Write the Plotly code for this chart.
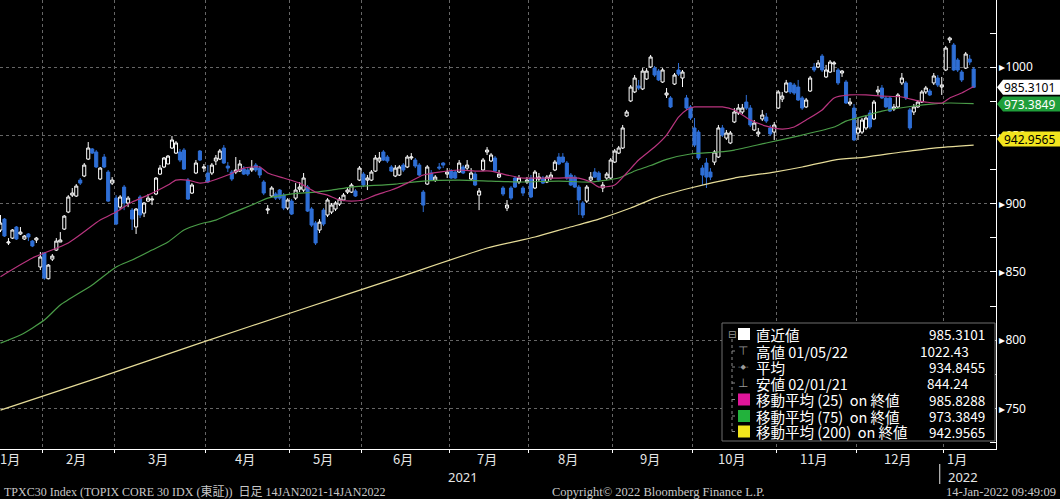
import plotly.graph_objects as go
import pandas as pd

# ------------------------------------------------------------------ data
holidays = ["2021-02-11", "2021-02-23", "2021-04-29", "2021-05-03", "2021-05-04",
            "2021-05-05", "2021-07-22", "2021-07-23", "2021-08-09", "2021-09-20",
            "2021-09-23", "2021-11-03", "2021-11-23", "2021-12-31", "2022-01-03",
            "2022-01-10"]

opens = [
    # Jan 2021
    884.0, 880.7, 888.7, 871.2, 874.8, 882.9, 877.8, 874.1, 877.8, 872.6, 873.4, 853.6,
    # Feb
    863.8, 845.0, 859.4, 866.0, 871.9, 881.4, 893.9, 906.3, 905.6, 917.3, 920.3, 932.7,
    940.1, 937.9, 918.1, 934.2, 923.2, 915.1,
    # Mar
    904.1, 897.5, 912.2, 900.5, 895.3, 882.9, 904.9, 893.1, 901.9, 902.7, 907.1, 921.7,
    926.9, 929.1, 940.8, 937.1, 937.9, 939.3, 917.3, 907.8, 922.5, 938.6, 926.1,
    # Apr
    922.5, 922.5, 931.3, 932.7, 940.8, 927.6, 923.2, 923.2, 923.9, 925.4, 924.7, 924.7,
    928.3, 926.1, 915.9, 895.3, 905.6, 907.1, 910.0, 906.3, 896.8,
    # May
    901.9, 904.1, 910.7, 910.0, 912.2, 896.1, 885.8, 880.7, 895.3, 891.7, 893.9, 896.1,
    899.7, 902.7, 908.5, 908.5, 909.3, 917.3,
    # Jun
    921.7, 917.3, 917.3, 923.9, 931.3, 937.9, 934.2, 926.9, 920.3, 921.0, 928.3, 926.9,
    933.5, 932.0, 928.3, 908.5, 914.4, 922.5, 917.3, 926.9, 929.8, 921.7,
    # Jul
    923.9, 923.2, 923.2, 926.9, 926.1, 918.1, 921.7, 906.3, 924.7, 937.9, 931.3, 933.5,
    919.5, 911.5, 896.8, 911.5, 918.8, 915.9, 911.5, 915.9,
    # Aug
    918.8, 911.5, 918.1, 918.8, 915.9, 918.8, 924.7, 934.2, 934.2, 929.8, 921.0, 919.5,
    912.2, 900.5, 901.9, 917.3, 923.2, 922.5, 911.5, 918.8, 918.8,
    # Sep
    930.5, 937.1, 940.8, 964.3, 975.3, 981.9, 986.3, 984.1, 991.4, 1000.2, 999.4, 997.2,
    989.2, 979.7, 977.5, 987.7, 998.0, 992.1, 977.5, 970.9,
    # Oct
    955.5, 952.5, 926.1, 929.8, 923.2, 930.5, 934.2, 955.5, 948.1, 944.5, 959.9, 966.5,
    967.2, 974.5, 970.1, 954.0, 951.1, 962.1, 963.5, 955.5, 952.5,
    # Nov
    970.1, 976.7, 981.9, 988.5, 987.0, 985.5, 977.5, 970.9, 982.6, 1000.2, 1000.2, 1008.2,
    992.9, 996.5, 1002.4, 998.0, 995.8, 989.2, 973.1, 970.1,
    # Dec
    951.8, 952.5, 955.5, 966.5, 962.1, 981.9, 984.8, 977.5, 977.5, 969.4, 970.9, 988.5,
    988.5, 968.7, 967.2, 970.9, 974.5, 981.9, 982.6, 988.5, 992.1, 985.5,
    # Jan 2022
    998.0, 1020.0, 1016.3, 1005.3, 996.5, 999.4, 1006.0, 998.7,
]

highs = [
    887.5, 891.7, 889.5, 874.8, 881.4, 883.6, 882.9, 877.0, 878.5, 873.4, 875.6, 864.6,
    864.6, 855.8, 863.1, 874.8, 879.2, 891.7, 906.3, 911.5, 914.4, 918.8, 929.8, 945.2,
    940.8, 939.3, 926.9, 936.4, 924.7, 919.5,
    906.3, 906.3, 913.7, 905.6, 896.8, 896.8, 906.3, 901.2, 907.1, 905.6, 919.5, 928.3,
    934.2, 935.7, 949.6, 945.9, 940.1, 940.8, 918.8, 915.1, 932.0, 939.3, 929.1,
    928.3, 929.8, 935.7, 940.1, 943.0, 930.5, 924.7, 934.2, 932.0, 927.6, 926.1, 932.0,
    929.8, 927.6, 917.3, 899.0, 912.9, 908.5, 910.7, 907.8, 904.1,
    903.4, 915.1, 915.9, 922.5, 913.7, 897.5, 887.3, 888.7, 896.8, 904.1, 900.5, 901.9,
    904.9, 907.8, 912.2, 915.1, 910.7, 927.6,
    923.2, 921.0, 924.7, 935.7, 937.9, 939.3, 935.7, 928.3, 928.3, 928.3, 929.8, 935.7,
    937.1, 933.5, 929.8, 910.0, 928.3, 924.7, 921.0, 929.8, 930.5, 926.1,
    925.4, 924.7, 932.0, 928.3, 932.0, 926.1, 923.2, 911.5, 933.5, 941.5, 937.1, 934.9,
    924.7, 912.9, 902.7, 912.9, 920.3, 921.0, 912.9, 919.5,
    921.0, 924.7, 922.5, 920.3, 921.0, 923.2, 932.0, 937.1, 937.1, 931.3, 922.5, 921.0,
    913.7, 901.9, 913.7, 923.2, 926.1, 923.9, 915.9, 923.2, 933.5,
    940.1, 942.3, 957.7, 968.7, 987.0, 994.3, 990.7, 999.4, 999.4, 1009.0, 1000.9, 998.7,
    999.4, 984.8, 978.9, 995.8, 1003.1, 998.0, 979.7, 972.3,
    962.8, 954.0, 928.3, 933.5, 926.1, 939.3, 957.7, 957.7, 954.0, 953.3, 970.1, 973.1,
    973.1, 979.7, 972.3, 961.3, 955.5, 968.7, 966.5, 957.7, 959.9,
    983.3, 981.9, 990.7, 989.2, 988.5, 990.7, 978.9, 977.5, 993.6, 1003.1, 1005.3, 1009.7,
    1001.7, 1005.3, 1004.6, 999.4, 998.0, 990.7, 977.5, 973.1,
    962.8, 962.8, 965.0, 968.7, 976.0, 986.3, 987.0, 978.9, 978.9, 973.1, 981.1, 995.8,
    989.9, 970.1, 973.1, 976.0, 983.3, 986.3, 984.1, 995.8, 994.3, 992.9,
    1015.6, 1022.43, 1017.8, 1006.8, 998.0, 1011.2, 1009.0, 1000.2,
]

lows = [
    880.0, 879.2, 875.6, 869.7, 874.1, 873.4, 877.0, 873.4, 872.6, 868.2, 871.2, 851.4,
    844.24, 844.5, 858.0, 865.3, 871.9, 880.7, 893.1, 904.9, 904.9, 913.7, 919.5, 932.0,
    936.4, 926.1, 917.3, 926.1, 901.2, 913.7,
    884.3, 895.3, 895.3, 897.5, 880.7, 877.8, 889.5, 890.2, 901.2, 899.0, 906.3, 921.0,
    926.1, 929.1, 940.1, 936.4, 930.5, 924.7, 902.7, 907.1, 921.7, 931.3, 923.2,
    915.1, 921.0, 928.3, 932.0, 929.1, 923.2, 916.6, 921.7, 923.2, 921.0, 920.3, 923.2,
    923.2, 918.8, 906.3, 892.4, 904.9, 902.7, 902.7, 895.3, 895.3,
    891.7, 902.7, 908.5, 908.5, 893.9, 882.9, 869.7, 878.5, 883.6, 890.2, 892.4, 894.6,
    898.3, 901.9, 907.1, 907.8, 904.9, 916.6,
    912.2, 910.0, 916.6, 923.2, 929.8, 931.3, 929.8, 923.2, 919.5, 920.3, 923.2, 926.1,
    932.0, 926.1, 920.3, 893.9, 913.7, 916.6, 915.9, 924.7, 926.1, 918.8,
    918.1, 918.1, 922.5, 921.7, 924.7, 917.3, 912.9, 895.3, 923.9, 935.7, 930.5, 923.2,
    918.8, 905.6, 894.6, 902.7, 911.5, 914.4, 905.6, 914.4,
    904.1, 910.7, 916.6, 914.4, 915.1, 917.3, 923.9, 928.3, 929.8, 917.3, 912.9, 911.5,
    891.7, 889.5, 900.5, 915.9, 918.8, 915.9, 908.5, 917.3, 918.1,
    929.8, 936.4, 940.1, 963.5, 974.5, 981.1, 983.3, 983.3, 990.7, 999.4, 992.9, 989.9,
    988.5, 977.5, 970.1, 987.0, 993.6, 985.5, 968.7, 961.3,
    941.5, 932.0, 913.7, 911.5, 917.3, 928.3, 933.5, 948.9, 946.7, 943.7, 959.1, 965.0,
    965.7, 968.7, 956.2, 953.3, 948.9, 960.6, 959.1, 949.6, 946.7,
    969.4, 974.5, 981.1, 980.4, 979.7, 975.3, 968.7, 970.1, 981.9, 996.5, 999.4, 996.5,
    992.1, 995.8, 996.5, 987.0, 992.9, 973.1, 971.6, 945.9,
    946.7, 951.1, 954.0, 954.7, 961.3, 979.7, 976.7, 970.1, 967.2, 967.9, 970.1, 987.0,
    976.0, 954.0, 965.0, 970.1, 973.8, 980.4, 978.9, 987.0, 985.5, 979.7,
    997.2, 1017.8, 997.2, 996.5, 989.2, 998.7, 1001.7, 984.8,
]

closes = [
    883.0, 885.8, 876.3, 871.9, 880.7, 874.1, 879.2, 876.3, 875.6, 869.0, 874.8, 860.9,
    845.5, 855.0, 861.6, 872.6, 873.4, 890.9, 904.9, 907.8, 912.9, 915.1, 928.3, 940.8,
    937.1, 926.9, 926.1, 926.9, 901.9, 917.3,
    885.1, 904.9, 900.5, 904.1, 888.7, 896.1, 891.7, 900.5, 904.1, 903.4, 918.8, 926.1,
    933.5, 934.9, 946.7, 944.5, 932.0, 925.4, 903.4, 913.7, 929.8, 932.0, 926.9,
    915.9, 928.3, 933.5, 938.6, 929.8, 926.1, 918.1, 924.7, 929.1, 921.7, 921.7, 926.1,
    924.7, 921.0, 907.8, 896.1, 911.5, 904.1, 904.1, 896.8, 902.7,
    892.4, 910.0, 912.2, 918.8, 894.6, 884.3, 871.2, 886.5, 885.1, 902.7, 899.0, 900.5,
    903.4, 906.3, 910.0, 913.7, 905.6, 926.1,
    913.7, 918.8, 923.2, 933.5, 933.5, 932.0, 931.3, 923.9, 926.1, 926.9, 924.7, 934.2,
    934.2, 927.6, 921.0, 899.0, 926.9, 917.3, 919.5, 926.1, 928.3, 923.2,
    918.8, 918.8, 929.8, 922.5, 928.3, 922.5, 913.7, 909.3, 932.0, 939.3, 935.7, 923.9,
    921.7, 907.1, 899.0, 904.1, 912.2, 918.8, 907.8, 917.3,
    904.9, 923.2, 919.5, 915.1, 919.5, 921.0, 930.5, 929.1, 930.5, 918.8, 913.7, 912.2,
    902.7, 891.7, 912.2, 919.5, 919.5, 917.3, 913.7, 921.7, 932.0,
    938.6, 940.8, 955.5, 967.2, 985.5, 992.1, 984.8, 997.2, 997.2, 1007.5, 994.3, 990.7,
    998.0, 981.1, 970.9, 994.3, 995.0, 996.5, 970.1, 962.8,
    943.0, 933.5, 921.0, 919.5, 919.5, 937.9, 955.5, 950.3, 951.8, 951.8, 967.2, 970.1,
    970.1, 970.1, 957.7, 959.1, 952.5, 965.0, 960.6, 951.1, 957.7,
    981.9, 978.9, 988.5, 981.9, 981.1, 976.0, 970.1, 976.0, 992.1, 998.0, 1003.1, 998.0,
    998.0, 1003.8, 1003.1, 988.5, 997.2, 973.8, 974.5, 946.7,
    955.5, 961.3, 962.8, 956.2, 974.5, 983.3, 977.5, 970.9, 967.9, 970.9, 979.7, 992.1,
    977.5, 955.5, 970.9, 974.5, 981.9, 984.8, 979.7, 993.6, 987.0, 987.0,
    1014.1, 1021.4, 998.0, 998.0, 990.7, 1009.7, 1003.8, 985.3101,
]

ma25_dates = ["2021-01-15", "2021-01-27", "2021-02-09", "2021-02-22", "2021-03-01",
              "2021-03-05", "2021-03-11", "2021-03-18", "2021-03-22", "2021-03-25",
              "2021-03-30", "2021-04-01", "2021-04-08", "2021-04-14", "2021-04-20",
              "2021-04-22", "2021-04-28", "2021-05-10", "2021-05-14", "2021-05-19",
              "2021-05-24", "2021-05-27", "2021-06-01", "2021-06-04", "2021-06-10",
              "2021-06-16", "2021-06-22", "2021-06-28", "2021-07-05", "2021-07-09",
              "2021-07-15", "2021-07-21", "2021-07-29", "2021-08-04", "2021-08-12",
              "2021-08-19", "2021-08-24", "2021-08-26", "2021-09-01", "2021-09-06",
              "2021-09-09", "2021-09-15", "2021-09-21", "2021-09-27", "2021-09-29",
              "2021-10-01", "2021-10-06", "2021-10-12", "2021-10-15", "2021-10-21",
              "2021-10-27", "2021-11-02", "2021-11-08", "2021-11-11", "2021-11-17",
              "2021-11-22", "2021-11-29", "2021-12-03", "2021-12-09", "2021-12-16",
              "2021-12-22", "2021-12-24", "2021-12-30", "2022-01-05", "2022-01-11",
              "2022-01-14"]
ma25_vals = [846.5, 860.2, 871.2, 888.0, 893.9,
             901.2, 906.3, 913.7, 917.3, 917.3,
             915.1, 915.9, 921.0, 926.1, 926.9,
             922.5, 918.8, 915.1, 908.5, 906.3,
             902.7, 901.9, 902.7, 906.3, 910.0,
             915.1, 921.0, 923.2, 924.7, 923.9,
             923.9, 921.0, 918.8, 918.8, 918.8,
             918.8, 915.9, 912.2, 913.7, 922.5,
             932.0, 941.5, 950.3, 963.5, 968.7,
             970.9, 970.9, 970.9, 968.7, 961.3,
             956.9, 954.7, 956.2, 961.3, 968.7,
             977.5, 979.7, 979.7, 978.9, 978.2,
             975.3, 974.5, 973.8, 977.5, 981.1,
             985.8288]

ma75_dates = ["2021-01-15", "2021-01-22", "2021-02-01", "2021-02-05", "2021-02-18",
              "2021-03-01", "2021-03-05", "2021-03-12", "2021-03-18", "2021-03-24",
              "2021-03-30", "2021-04-05", "2021-04-09", "2021-04-16", "2021-04-22",
              "2021-04-28", "2021-05-10", "2021-05-14", "2021-05-20", "2021-05-27",
              "2021-06-01", "2021-06-11", "2021-06-22", "2021-07-05", "2021-07-15",
              "2021-07-29", "2021-08-12", "2021-08-24", "2021-09-02", "2021-09-08",
              "2021-09-14", "2021-09-21", "2021-09-30", "2021-10-11", "2021-10-15",
              "2021-10-27", "2021-11-10", "2021-11-22", "2021-11-26", "2021-12-03",
              "2021-12-09", "2021-12-21", "2021-12-28", "2022-01-05", "2022-01-14"]
ma75_vals = [797.8, 803.7, 814.7, 825.7, 840.4,
             853.6, 858.7, 866.0, 871.9, 880.7,
             885.1, 888.0, 893.1, 899.0, 904.1,
             906.3, 907.8, 908.5, 910.0, 912.2,
             912.9, 914.4, 916.6, 917.3, 916.6,
             915.9, 916.6, 915.9, 918.8, 924.0,
             928.0, 932.5, 936.4, 937.9, 939.3,
             944.5, 950.3, 956.2, 960.5, 964.5,
             967.9, 971.6, 973.1, 973.8, 973.3849]

ma200_dates = ["2021-01-15", "2021-02-22", "2021-03-30", "2021-05-10", "2021-06-14",
               "2021-07-14", "2021-08-03", "2021-08-16", "2021-08-26", "2021-09-07",
               "2021-09-15", "2021-09-30", "2021-10-15", "2021-10-29", "2021-11-10",
               "2021-11-22", "2021-12-03", "2021-12-16", "2021-12-28", "2022-01-14"]
ma200_vals = [748.7, 772.9, 797.8, 822.1, 846.2,
              867.5, 875.6, 882.2, 888.7, 896.8,
              904.1, 911.5, 918.8, 923.2, 926.9,
              932.0, 934.2, 937.9, 940.8, 942.9565]

avg_close = 934.8455
high_date = "01/05/22"
low_date = "02/01/21"
month_names = ["1月", "2月", "3月", "4月", "5月", "6月", "7月", "8月", "9月",
               "10月", "11月", "12月"]
footer_left = "TPXC30 Index (TOPIX CORE 30 IDX (東証))  日足 14JAN2021-14JAN2022"
footer_mid = "Copyright© 2022 Bloomberg Finance L.P."
footer_right = "14-Jan-2022 09:49:09"

# ------------------------------------------------------------------ calendar
days = pd.bdate_range("2021-01-14", "2022-01-14")
days = days[~days.isin(pd.to_datetime(holidays))]
pos = {d.strftime("%Y-%m-%d"): i for i, d in enumerate(days)}
xi = list(range(len(days)))

# ------------------------------------------------------------------ style
W, H = 1060, 499
PW, PH = 996, 449           # plot area in pixels
BLUE = "#2f6fd6"
MAG_LINE, GRN_LINE, YEL_LINE = "#b9357f", "#4a9c48", "#e6dc98"
MAG, GRN, YEL = "#e0159a", "#22b23c", "#f2e61c"
CJK = "Noto Sans CJK JP, Noto Sans, sans-serif"
YMIN, YMAX = 720.2, 1049.3
XMIN, XMAX = 0.88, 250.6


def px(x):
    return x / PW


def py(y):
    return 1 - y / PH


fig = go.Figure()

fig.add_trace(go.Candlestick(
    x=xi, open=opens, high=highs, low=lows, close=closes,
    increasing=dict(line=dict(color="#ffffff", width=1), fillcolor="#000000"),
    decreasing=dict(line=dict(color=BLUE, width=1), fillcolor=BLUE),
    whiskerwidth=0, showlegend=False, hoverinfo="skip"))

for dates, vals, col in [(ma200_dates, ma200_vals, YEL_LINE),
                         (ma75_dates, ma75_vals, GRN_LINE),
                         (ma25_dates, ma25_vals, MAG_LINE)]:
    fig.add_trace(go.Scatter(x=[pos[d] for d in dates], y=vals, mode="lines",
                             line=dict(color=col, width=1.2, shape="spline",
                                       smoothing=0.6),
                             showlegend=False, hoverinfo="skip"))

# month boundaries
mser = pd.Series(xi, index=days)
groups = mser.groupby([days.year, days.month])
month_first = [g.iloc[0] for _, g in groups]
month_mid = [g.mean() for _, g in groups]
month_key = [k for k, _ in groups]
bounds = [f - 0.5 for f in month_first[1:]]

annotations = []
for (yr, mo), mid in zip(month_key, month_mid):
    if yr == 2021 and mo == 1:
        mid = (XMIN + month_first[1]) / 2 - 2.5
    annotations.append(dict(x=mid - 0.6, y=py(458), xref="x", yref="paper",
                            text=month_names[mo - 1], showarrow=False,
                            font=dict(family=CJK, size=13, color="#e6e6e6"),
                            xanchor="center", yanchor="middle"))

yr_mid = {}
for yr in (2021, 2022):
    sel = [i for i, d in zip(xi, days) if d.year == yr and i >= XMIN]
    yr_mid[yr] = sum(sel) / len(sel)
for yr, off in ((2021, -2.0), (2022, 0.8)):
    annotations.append(dict(x=yr_mid[yr] + off, y=py(477), xref="x", yref="paper",
                            text=str(yr), showarrow=False, xanchor="center",
                            yanchor="middle",
                            font=dict(family="Noto Sans", size=13, color="#e6e6e6")))

shapes = []
# year separator
shapes.append(dict(type="line", xref="x", yref="paper", x0=bounds[-1] - 1,
                   x1=bounds[-1] - 1, y0=py(464), y1=py(484),
                   line=dict(color="#e6e6e6", width=1)))

# footers
FOOT = "Liberation Serif, Noto Sans CJK JP, serif"
annotations += [
    dict(x=px(2), y=py(492), xref="paper", yref="paper", text=footer_left,
         showarrow=False, xanchor="left", yanchor="middle",
         font=dict(family=FOOT, size=12, color="#c8c8c8")),
    dict(x=px(550), y=py(492), xref="paper", yref="paper", text=footer_mid,
         showarrow=False, xanchor="left", yanchor="middle",
         font=dict(family=FOOT, size=12.5, color="#c8c8c8")),
    dict(x=px(1058), y=py(492), xref="paper", yref="paper", text=footer_right,
         showarrow=False, xanchor="right", yanchor="middle",
         font=dict(family=FOOT, size=12.5, color="#c8c8c8")),
]

# last-value tags on the right axis
vpp = (YMAX - YMIN) / PH      # value units per pixel
tags = [(closes[-1], 0.0, "#ffffff", "#000000"),
        (ma75_vals[-1], -0.5, "#1f9e3a", "#ffffff"),
        (ma200_vals[-1], 6.0, "#f2e41e", "#000000")]
for val, shift_px, bg, fg in tags:
    yc = val + shift_px * vpp
    h = 7.5 * vpp
    tip, left, right = px(997), px(1003), px(1062)
    shapes.append(dict(type="path", xref="paper", yref="y",
                       path=f"M {tip},{yc} L {left},{yc + h} L {right},{yc + h} "
                            f"L {right},{yc - h} L {left},{yc - h} Z",
                       fillcolor=bg, line=dict(width=0), layer="above"))
    annotations.append(dict(x=px(1002), y=yc, xref="paper", yref="y",
                            text=f"{val:.4f}", showarrow=False, xanchor="left",
                            yanchor="middle",
                            font=dict(family="Noto Sans", size=12, color=fg)))

# legend box
shapes.append(dict(type="rect", xref="paper", yref="paper", x0=px(722), x1=px(995),
                   y0=py(441), y1=py(323), fillcolor="#000000",
                   line=dict(color="#6e6e6e", width=1), layer="above"))
rows = [334, 351, 367, 383, 399.5, 416, 431.5]
shapes.append(dict(type="line", xref="paper", yref="paper", x0=px(732), x1=px(732),
                   y0=py(339), y1=py(431.5), line=dict(color="#8a8a8a", width=1,
                                                       dash="dot"), layer="above"))
for r in rows[1:]:
    shapes.append(dict(type="line", xref="paper", yref="paper", x0=px(732),
                       x1=px(737), y0=py(r), y1=py(r),
                       line=dict(color="#8a8a8a", width=1, dash="dot"), layer="above"))
for r, col in [(rows[0], "#ffffff"), (rows[4], MAG), (rows[5], GRN), (rows[6], YEL)]:
    shapes.append(dict(type="rect", xref="paper", yref="paper", x0=px(738), x1=px(750),
                       y0=py(r + 6), y1=py(r - 6), fillcolor=col, line=dict(width=0),
                       layer="above"))
annotations.append(dict(x=px(732), y=py(rows[0]), xref="paper", yref="paper",
                        text="⊟", showarrow=False, xanchor="center", yanchor="middle",
                        font=dict(family="DejaVu Sans", size=10, color="#9a9a9a")))
for r, glyph in [(rows[1], "⊤"), (rows[2], "-◆-"), (rows[3], "⊥")]:
    annotations.append(dict(x=px(743), y=py(r), xref="paper", yref="paper",
                            text=glyph, showarrow=False, xanchor="center",
                            yanchor="middle",
                            font=dict(family="DejaVu Sans",
                                      size=7 if glyph == "-◆-" else 12,
                                      color="#9a9a9a")))

NB = "\u00a0"
labels = ["直近値", f"高値 {high_date}", "平均", f"安値 {low_date}",
          f"移動平均 (25){NB}{NB}on 終値", f"移動平均 (75){NB}{NB}on 終値",
          f"移動平均 (200){NB}{NB}on 終値"]
values = [(f"{closes[-1]:.4f}", 987), (f"{max(highs):.2f}", 971),
          (f"{avg_close:.4f}", 987), (f"{min(lows):.2f}", 971),
          (f"{ma25_vals[-1]:.4f}", 987), (f"{ma75_vals[-1]:.4f}", 987),
          (f"{ma200_vals[-1]:.4f}", 987)]
for r, lab, (v, xr) in zip(rows, labels, values):
    annotations.append(dict(x=px(754), y=py(r), xref="paper", yref="paper", text=lab,
                            showarrow=False, xanchor="left", yanchor="middle",
                            font=dict(family=CJK, size=14.5, color="#ffffff")))
    annotations.append(dict(x=px(xr), y=py(r), xref="paper", yref="paper", text=v,
                            showarrow=False, xanchor="right", yanchor="middle",
                            font=dict(family=CJK, size=13.5, color="#ffffff")))

ytick_vals = [750, 800, 850, 900, 950, 1000]
fig.update_layout(
    width=W, height=H, margin=dict(l=0, r=W - PW, t=0, b=H - PH),
    paper_bgcolor="#000000", plot_bgcolor="#000000",
    font=dict(family=CJK, color="#ffffff"),
    showlegend=False, dragmode=False, boxgap=0.12, boxgroupgap=0.12,
    xaxis=dict(range=[XMIN, XMAX], tickmode="array", tickvals=bounds,
               showticklabels=False, ticks="outside", ticklen=3, tickcolor="#ffffff",
               showgrid=True, gridcolor="#666666", griddash="dot", gridwidth=1,
               showline=True, linecolor="#ffffff", linewidth=1, zeroline=False,
               rangeslider=dict(visible=False), fixedrange=True),
    yaxis=dict(range=[YMIN, YMAX], side="right", tickmode="array",
               tickvals=ytick_vals, ticktext=["▸" + str(v) for v in ytick_vals],
               ticks="inside", ticklen=6, tickcolor="#ffffff",
               tickfont=dict(family="Noto Sans", size=12, color="#ffffff"),
               showgrid=True, gridcolor="#666666", griddash="dot", gridwidth=1,
               showline=True, linecolor="#ffffff", linewidth=1, zeroline=False,
               minor=dict(tickvals=[725, 775, 825, 875, 925, 975, 1025],
                          ticks="inside", ticklen=6, tickcolor="#ffffff",
                          showgrid=False),
               fixedrange=True),
    shapes=shapes, annotations=annotations,
)

fig.write_html("out.html", config={"displayModeBar": False},
               post_script="document.body.style.margin='0';"
                           "document.body.style.overflow='hidden';")
